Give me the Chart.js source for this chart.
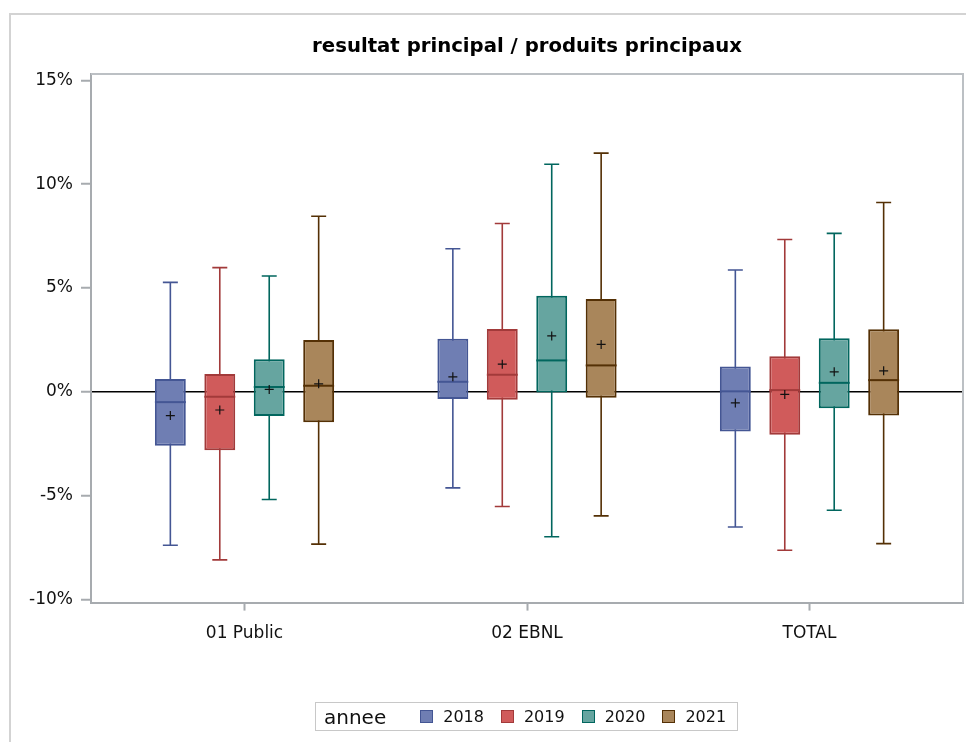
<!DOCTYPE html>
<html>
<head>
<meta charset="utf-8">
<title>resultat principal / produits principaux</title>
<script src="https://cdn.jsdelivr.net/npm/chart.js@4.4.1/dist/chart.umd.min.js"></script>
<style>
    html, body { margin: 0; padding: 0; background: #fff; }
    body { width: 966px; height: 742px; position: relative; overflow: hidden; font-family: 'DejaVu Sans', sans-serif; }
    .frame { position: absolute; left: 9px; top: 13px; width: 2000px; height: 2000px;
             border-left: 2px solid #d3d3d3; border-top: 2px solid #d3d3d3; }
    #boxChart { position: absolute; left: 0; top: 0; }
    .legend { position: absolute; left: 315px; top: 702px; width: 421px; height: 27px;
              border: 1px solid #c8c8c8; display: flex; align-items: center; color: #111; }
    .legend .title { font-size: 20px; margin-left: 8px; margin-right: 34px; }
    .legend .item { display: flex; align-items: center; font-size: 16px; margin-right: 17px; }
    .legend .swatch { width: 11px; height: 11px; border: 1px solid; margin-right: 10px; }
</style>
</head>
<body>
<div class="frame"></div>
<canvas id="boxChart" width="966" height="742"></canvas>
<div id="legend" class="legend"></div>
<script>
const categories = ['01 Public', '02 EBNL', 'TOTAL'];
const years = ['2018', '2019', '2020', '2021'];
const yTicks = [-10, -5, 0, 5, 10, 15];

// one row per year, one value per category (in %)
const minValues = [
    [-7.40, -4.63, -6.52],
    [-8.10, -5.53, -7.64],
    [-5.19, -6.99, -5.71],
    [-7.34, -5.98, -7.32]
];
const q1Values = [
    [-2.60, -0.35, -1.91],
    [-2.82, -0.38, -2.07],
    [-1.17, -0.03, -0.80],
    [-1.47, -0.29, -1.15]
];
const medianValues = [
    [-0.50, 0.48, 0.02],
    [-0.24, 0.82, 0.08],
    [0.23, 1.51, 0.43],
    [0.29, 1.27, 0.56]
];
const q3Values = [
    [0.62, 2.55, 1.22],
    [0.85, 3.03, 1.71],
    [1.57, 4.63, 2.58],
    [2.50, 4.47, 3.01]
];
const maxValues = [
    [5.27, 6.89, 5.87],
    [5.98, 8.11, 7.34],
    [5.58, 10.96, 7.63],
    [8.46, 11.50, 9.12]
];
const meanValues = [
    [-1.15, 0.72, -0.54],
    [-0.88, 1.33, -0.13],
    [0.11, 2.69, 0.96],
    [0.38, 2.28, 1.01]
];

const fillColors = ['#6F7EB3', '#D05B5B', '#66A5A0', '#A9865B'];
const lineColors = ['#445694', '#A23A3A', '#01665E', '#543005'];
const axisColor = '#A7ABAF';

// whiskers behind the boxes, medians and means on top
const boxPlotExtras = {
    id: 'boxPlotExtras',
    beforeDatasetsDraw(chart) {
        const ctx = chart.ctx;
        const y = chart.scales.y;
        ctx.save();
        chart.data.datasets.forEach((ds, d) => {
            const meta = chart.getDatasetMeta(d);
            meta.data.forEach((bar, i) => {
                const x = bar.x;
                const top = y.getPixelForValue(maxValues[d][i]);
                const bottom = y.getPixelForValue(minValues[d][i]);
                ctx.strokeStyle = lineColors[d];
                ctx.lineWidth = 1.6;
                ctx.beginPath();
                ctx.moveTo(x, top);
                ctx.lineTo(x, bottom);
                ctx.moveTo(x - 7.5, top);
                ctx.lineTo(x + 7.5, top);
                ctx.moveTo(x - 7.5, bottom);
                ctx.lineTo(x + 7.5, bottom);
                ctx.stroke();
            });
        });
        ctx.restore();
    },
    afterDatasetsDraw(chart) {
        const ctx = chart.ctx;
        const y = chart.scales.y;
        ctx.save();
        chart.data.datasets.forEach((ds, d) => {
            const meta = chart.getDatasetMeta(d);
            meta.data.forEach((bar, i) => {
                const x = bar.x;
                const half = bar.width / 2;
                const med = y.getPixelForValue(medianValues[d][i]);
                ctx.strokeStyle = lineColors[d];
                ctx.lineWidth = 2;
                ctx.beginPath();
                ctx.moveTo(x - half, med);
                ctx.lineTo(x + half, med);
                ctx.stroke();

                const mean = y.getPixelForValue(meanValues[d][i]);
                ctx.strokeStyle = '#111';
                ctx.lineWidth = 1.2;
                ctx.beginPath();
                ctx.moveTo(x - 4.5, mean);
                ctx.lineTo(x + 4.5, mean);
                ctx.moveTo(x, mean - 4.5);
                ctx.lineTo(x, mean + 4.5);
                ctx.stroke();
            });
        });
        ctx.restore();
    },
    afterDraw(chart) {
        const ctx = chart.ctx;
        const area = chart.chartArea;
        ctx.save();
        ctx.strokeStyle = '#BCC0C4';
        ctx.lineWidth = 2;
        ctx.beginPath();
        ctx.moveTo(area.left, area.top);
        ctx.lineTo(area.right, area.top);
        ctx.lineTo(area.right, area.bottom);
        ctx.stroke();
        ctx.restore();
    }
};

function buildLegend() {
    const legend = document.getElementById('legend');
    legend.innerHTML = '<span class="title">annee</span>';
    years.forEach((year, d) => {
        const item = document.createElement('span');
        item.className = 'item';
        item.innerHTML = `<span class="swatch" style="background:${fillColors[d]};border-color:${lineColors[d]}"></span>${year}`;
        legend.appendChild(item);
    });
}

function drawChart() {
    const ctx = document.getElementById('boxChart').getContext('2d');

    const datasets = years.map((year, d) => ({
        label: year,
        data: categories.map((c, i) => ({ x: i, y: [q1Values[d][i], q3Values[d][i]] })),
        backgroundColor: fillColors[d],
        borderColor: lineColors[d],
        borderWidth: 2,
        borderSkipped: false,
        categoryPercentage: 0.70,
        barPercentage: 0.625
    }));

    Chart.defaults.font.family = "'DejaVu Sans', sans-serif";
    Chart.defaults.color = '#111';

    new Chart(ctx, {
        type: 'bar',
        data: { datasets: datasets },
        options: {
            responsive: false,
            animation: false,
            layout: { padding: { left: 3, right: 3, top: 35, bottom: 85 } },
            plugins: {
                legend: { display: false },
                tooltip: { enabled: false },
                title: {
                    display: true,
                    fullSize: false,
                    text: 'resultat principal / produits principaux',
                    color: '#000',
                    font: { size: 19.7, weight: 'bold' },
                    padding: { top: 0, bottom: 15.4 }
                }
            },
            scales: {
                x: {
                    type: 'linear',
                    min: -0.5434,
                    max: 2.5434,
                    offset: false,
                    afterBuildTicks: scale => {
                        scale.ticks = categories.map((c, i) => ({ value: i }));
                    },
                    ticks: {
                        font: { size: 17 },
                        padding: 13,
                        maxRotation: 0,
                        callback: value => categories[value]
                    },
                    grid: { offset: false, drawOnChartArea: false, tickLength: 8, tickColor: axisColor, tickWidth: 2 },
                    border: { color: axisColor, width: 2 }
                },
                y: {
                    min: -10.16,
                    max: 15.31,
                    afterBuildTicks: scale => {
                        scale.ticks = yTicks.map(v => ({ value: v }));
                    },
                    afterFit: scale => {
                        scale.width = 88;
                    },
                    ticks: {
                        font: { size: 17 },
                        padding: 8,
                        callback: value => value + '%'
                    },
                    grid: {
                        color: c => (c.tick && c.tick.value === 0 ? '#000' : 'rgba(0,0,0,0)'),
                        lineWidth: 1.5,
                        tickLength: 10,
                        tickColor: axisColor,
                        tickWidth: 2
                    },
                    border: { color: axisColor, width: 2 }
                }
            }
        },
        plugins: [boxPlotExtras]
    });
}

buildLegend();
drawChart();
</script>
</body>
</html>
